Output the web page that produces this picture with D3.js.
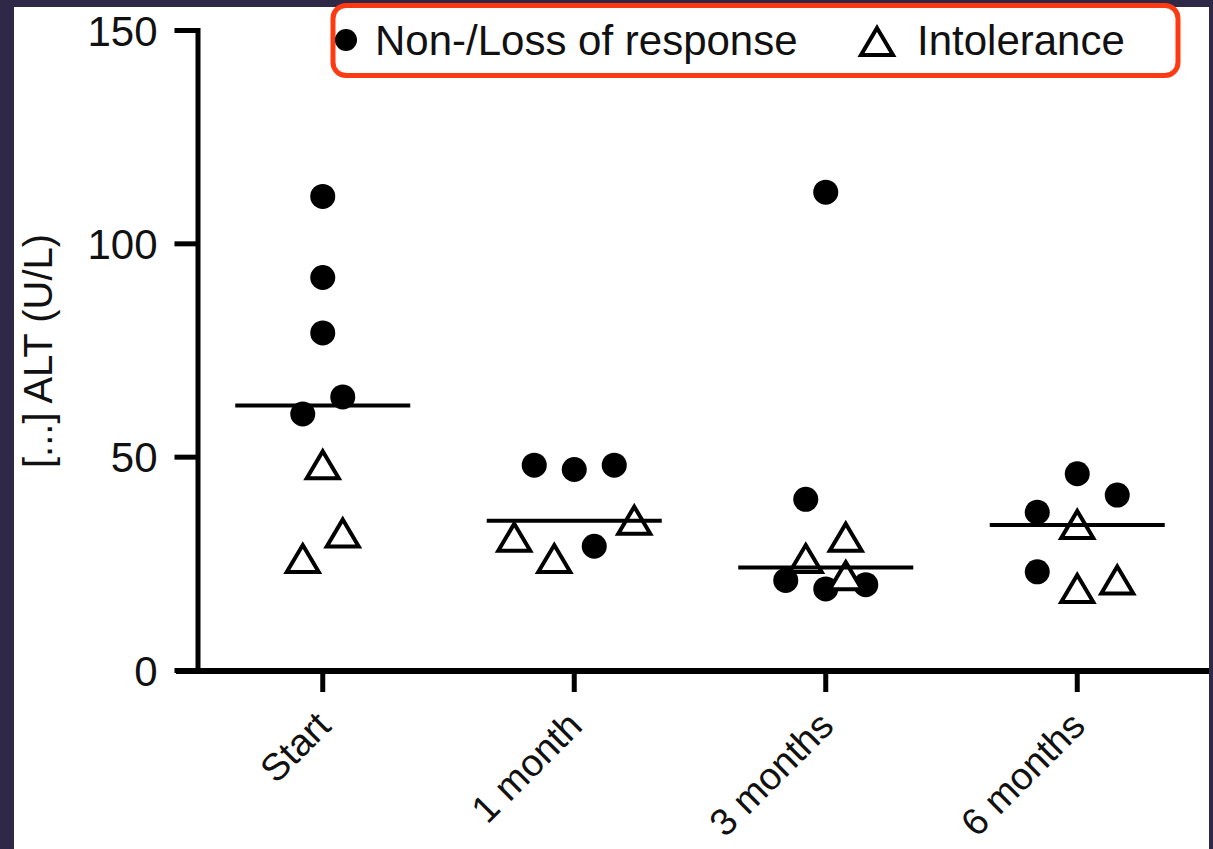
<!DOCTYPE html>
<html>
<head>
<meta charset="utf-8">
<script src="https://cdn.jsdelivr.net/npm/d3@7"></script>
<style>
  html, body { margin: 0; padding: 0; background: #2f2846; }
  svg { display: block; }
  text { font-family: "Liberation Sans", Arial, sans-serif; fill: #111; }
</style>
</head>
<body>
<svg id="chart" width="1213" height="849"></svg>
<script>
// ---------------- data ----------------
const categories = ["Start", "1 month", "3 months", "6 months"];
const yTicks = [0, 50, 100, 150];
const seriesNames = ["Non-/Loss of response", "Intolerance"];
const yTitle = "[...] ALT (U/L)";
// Each time point: rows of points that sit side by side (left to right).
// "c" = Non-/Loss of response (filled circle), "t" = Intolerance (open triangle)
const startRows = [[["c", 111]], [["c", 92]], [["c", 79]], [["c", 60], ["c", 64]], [["t", 48]], [["t", 26], ["t", 32]]];
const month1Rows = [[["c", 48], ["c", 47], ["c", 48]], [["t", 31], ["t", 26], ["c", 29], ["t", 35]]];
const month3Rows = [[["c", 112]], [["c", 40], ["t", 31]], [["t", 26], ["t", 22]], [["c", 21], ["c", 19], ["c", 20]]];
const month6Rows = [[["c", 46]], [["c", 37], ["t", 34], ["c", 41]], [["c", 23], ["t", 19], ["t", 21]]];
const groupRows = [startRows, month1Rows, month3Rows, month6Rows];

// ---------------- layout ----------------
const W = 1213, H = 849;
const svg = d3.select("#chart");
svg.append("rect").attr("width", W).attr("height", H).attr("fill", "#2f2846");
svg.append("rect").attr("x", 14).attr("y", 7).attr("width", 1195).attr("height", H - 7).attr("fill", "#ffffff");

const x = d3.scaleBand().domain(categories).range([197, 1203]);
const y = d3.scaleLinear().domain([0, 150]).range([670, 30]);
const spread = 40;      // horizontal spacing between side-by-side points
const medianHalf = 87.5;

const points = [];
groupRows.forEach((rows, gi) => {
  rows.forEach(row => {
    row.forEach(([s, v], i) => {
      points.push({ cat: categories[gi], s, v, dx: (i - (row.length - 1) / 2) * spread });
    });
  });
});

// ---------------- axes ----------------
const yAxis = svg.append("g")
  .attr("transform", "translate(197.5,0)")
  .call(d3.axisLeft(y).tickValues(yTicks).tickSize(23).tickSizeOuter(0).tickPadding(17));
yAxis.select(".domain").attr("stroke", "#000").attr("stroke-width", 5).attr("stroke-linecap", "square");
yAxis.selectAll(".tick line").attr("stroke", "#000").attr("stroke-width", 5);
yAxis.selectAll(".tick text").attr("font-size", 42).attr("fill", "#1a1a1a")
  .attr("font-family", "'Liberation Sans', Arial, sans-serif").attr("dy", "0.36em");

const xAxis = svg.append("g")
  .attr("transform", "translate(0,671)")
  .call(d3.axisBottom(x).tickSize(21).tickSizeOuter(0));
xAxis.select(".domain").remove();
xAxis.append("line").attr("x1", 176).attr("x2", 1209).attr("y1", 0).attr("y2", 0)
  .attr("stroke", "#000").attr("stroke-width", 6);
xAxis.selectAll(".tick line").attr("stroke", "#000").attr("stroke-width", 5);
xAxis.selectAll(".tick text")
  .attr("font-size", 38).attr("fill", "#1a1a1a")
  .attr("font-family", "'Liberation Sans', Arial, sans-serif")
  .attr("x", 0).attr("y", 0).attr("dy", 0)
  .attr("text-anchor", "end")
  .attr("transform", "translate(10,57) rotate(-45)");

svg.append("text")
  .attr("transform", "translate(52," + 351 + ") rotate(-90)")
  .attr("text-anchor", "middle")
  .attr("font-size", 40)
  .attr("fill", "#1a1a1a")
  .text(yTitle);

// ---------------- marks ----------------
const triPath = "M0,-14L16,13L-16,13Z";

svg.append("g").selectAll("circle")
  .data(points.filter(p => p.s === "c"))
  .join("circle")
  .attr("cx", p => x(p.cat) + x.bandwidth() / 2 + p.dx)
  .attr("cy", p => y(p.v))
  .attr("r", 12.5)
  .attr("fill", "#000");

svg.append("g").selectAll("path")
  .data(points.filter(p => p.s === "t"))
  .join("path")
  .attr("d", triPath)
  .attr("transform", p => "translate(" + (x(p.cat) + x.bandwidth() / 2 + p.dx) + "," + y(p.v) + ")")
  .attr("fill", "#fff")
  .attr("stroke", "#000")
  .attr("stroke-width", 4)
  .attr("stroke-linejoin", "miter");

const medians = categories.map(c => ({ cat: c, m: d3.median(points.filter(p => p.cat === c), p => p.v) }));
svg.append("g").selectAll("line")
  .data(medians)
  .join("line")
  .attr("x1", d => x(d.cat) + x.bandwidth() / 2 - medianHalf)
  .attr("x2", d => x(d.cat) + x.bandwidth() / 2 + medianHalf)
  .attr("y1", d => y(d.m))
  .attr("y2", d => y(d.m))
  .attr("stroke", "#000")
  .attr("stroke-width", 4);

// ---------------- legend ----------------
const lg = svg.append("g");
lg.append("rect").attr("x", 333).attr("y", 5.5).attr("width", 845).attr("height", 70)
  .attr("rx", 13).attr("fill", "none").attr("stroke", "#fd3a12").attr("stroke-width", 5);
lg.append("circle").attr("cx", 346).attr("cy", 40).attr("r", 11).attr("fill", "#000");
lg.append("text").attr("x", 375).attr("y", 55).attr("font-size", 42).attr("fill", "#1a1a1a").text(seriesNames[0]);
lg.append("path").attr("d", triPath).attr("transform", "translate(877,42)")
  .attr("fill", "#fff").attr("stroke", "#000").attr("stroke-width", 4);
lg.append("text").attr("x", 917).attr("y", 55).attr("font-size", 42).attr("fill", "#1a1a1a").text(seriesNames[1]);
</script>
</body>
</html>
